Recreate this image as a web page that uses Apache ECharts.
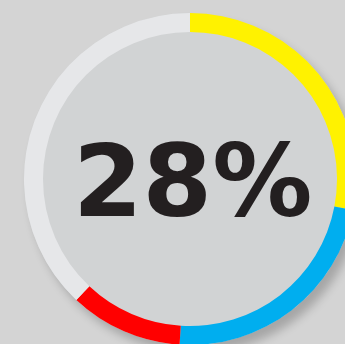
<!DOCTYPE html>
<html>
<head>
<meta charset="utf-8">
<script src="https://cdn.jsdelivr.net/npm/echarts@6/dist/echarts.min.js"></script>
<style>
html,body{margin:0;padding:0;background:#d4d4d4;}
#c{width:345px;height:344px;}
</style>
</head>
<body>
<div id="c"></div>
<script>
var categories = ['Yellow', 'Blue', 'Red', 'Rest'];
var values = [28, 23, 11, 38];
var colors = ['#fff200', '#00aeef', '#ff0000', '#e6e7e9'];
var centerLabel = '28%';

var chart = echarts.init(document.getElementById('c'));
chart.setOption({
  backgroundColor: '#d4d4d4',
  animation: false,
  series: [
    {
      type: 'pie', silent: true, center: [190, 179], radius: [0, 166],
      label: {show: false}, labelLine: {show: false},
      data: [{value: 1, itemStyle: {color: '#d1d3d4', shadowColor: 'rgba(0,0,0,0.22)', shadowBlur: 10, shadowOffsetX: 6, shadowOffsetY: 8}}]
    },
    {
      type: 'pie', silent: true, center: [190, 179], radius: [147, 166],
      startAngle: 90, clockwise: true,
      label: {show: false}, labelLine: {show: false},
      itemStyle: {borderWidth: 0},
      data: categories.map(function (c, i) {
        return {name: c, value: values[i], itemStyle: {color: colors[i]}};
      })
    }
  ],
  graphic: {
    elements: [{
      type: 'text', left: 73, top: 140, z: 100,
      style: {
        text: centerLabel, fill: '#231f20',
        fontSize: 100, fontWeight: 'bold', fontFamily: 'DejaVu Sans'
      }
    }]
  }
});
</script>
</body>
</html>
